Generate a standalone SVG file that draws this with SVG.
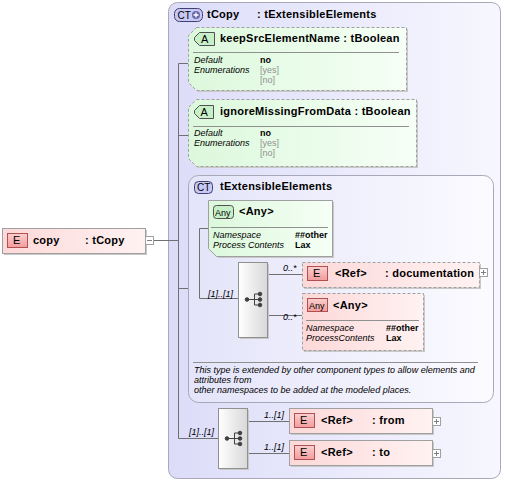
<svg xmlns="http://www.w3.org/2000/svg" width="505" height="482" viewBox="0 0 505 482">
<defs>
<linearGradient id="gOuter" x1="0" y1="0" x2="1" y2="0"><stop offset="0" stop-color="#dcdcf9"/><stop offset="1" stop-color="#f7f7ff"/></linearGradient>
<linearGradient id="gInner" x1="0" y1="0" x2="1" y2="0"><stop offset="0" stop-color="#e4e4fa"/><stop offset="1" stop-color="#fbfbff"/></linearGradient>
<linearGradient id="gGreen" x1="0" y1="0" x2="1" y2="0"><stop offset="0" stop-color="#dcf8dc"/><stop offset="1" stop-color="#f6fff6"/></linearGradient>
<linearGradient id="gPink" x1="0" y1="0" x2="1" y2="0"><stop offset="0" stop-color="#fdd8d8"/><stop offset="1" stop-color="#fff2f2"/></linearGradient>
<linearGradient id="gSeq" x1="0" y1="0" x2="1" y2="0"><stop offset="0" stop-color="#ffffff"/><stop offset="1" stop-color="#d8d8d8"/></linearGradient>
<linearGradient id="gE" x1="0" y1="0" x2="0" y2="1"><stop offset="0" stop-color="#fbd0d0"/><stop offset="1" stop-color="#f29c9c"/></linearGradient>
<style>
.t{font-family:"Liberation Sans",Arial,sans-serif;font-size:11px;fill:#000}
.b{font-weight:bold;letter-spacing:0.25px}
.d{font-family:"Liberation Sans",Arial,sans-serif;font-size:9px;fill:#000}
.i{font-style:italic}
.g{fill:#909090}
.bd{font-family:"Liberation Sans",Arial,sans-serif;font-size:9px;font-weight:bold;fill:#000}
.sh{fill:#c8c8c8}
.dash{stroke:#a0a0a0;stroke-width:1;stroke-dasharray:3,2}
.solid{stroke:#a0a0a0;stroke-width:1}
.ln{stroke:#707070;stroke-width:1;fill:none}
.sep{stroke:#909090;stroke-width:1}
.badgeE{fill:url(#gE);stroke:#b05050;stroke-width:1}
.badgeG{fill:#c8f0c8;stroke:#505050;stroke-width:1}
.badgeC{fill:#c8c8f4;stroke:#404070;stroke-width:1}
.pm{fill:#fff;stroke:#a0a0a0;stroke-width:1}
.card{font-family:"Liberation Sans",Arial,sans-serif;font-size:9px;font-style:italic;fill:#000}
</style>
</defs>

<g id="tCopy">
<rect x="168.5" y="2.5" width="332" height="476" rx="9" fill="url(#gOuter)" stroke="#a8a8b8"/>
<rect x="174.5" y="8.5" width="28" height="13" rx="5" class="badgeC"/>
<text x="177.5" y="19" class="t" style="font-size:10px">CT</text>
<circle cx="196" cy="15" r="4" fill="#6868a8"/>
<path d="M193.5,15 H198.5 M196,12.5 V17.5" stroke="#fff" stroke-width="1.3"/>
<text x="207" y="18" class="t b">tCopy</text>
<text x="257" y="18" class="t b">: tExtensibleElements</text>
</g>

<g id="keepSrcElementName">
<path d="M198,29 H408 V92 H198 L190,84 V37 Z" class="sh"/>
<path d="M196.5,27.5 H406.5 V90.5 H196.5 L188.5,82.5 V35.5 Z" fill="url(#gGreen)" class="dash"/>
<path d="M199.5,32.5 H214.5 V45.5 H199.5 L194.5,40.5 V37.5 Z" class="badgeG"/>
<text x="201" y="43" class="t">A</text>
<text x="220" y="42" class="t b">keepSrcElementName : tBoolean</text>
<path d="M193,52.5 H399" class="sep"/>
<text x="194" y="63" class="d i">Default</text>
<text x="260" y="63" class="bd">no</text>
<text x="194" y="73" class="d i">Enumerations</text>
<text x="260" y="73" class="d g">[yes]</text>
<text x="260" y="83" class="d g">[no]</text>
</g>

<g id="ignoreMissingFromData">
<path d="M198,101 H418 V168 H198 L190,160 V109 Z" class="sh"/>
<path d="M196.5,99.5 H416.5 V166.5 H196.5 L188.5,158.5 V107.5 Z" fill="url(#gGreen)" class="dash"/>
<path d="M199.5,105.5 H213.5 V118.5 H199.5 L194.5,113.5 V110.5 Z" class="badgeG"/>
<text x="200.5" y="116" class="t">A</text>
<text x="220" y="115" class="t b">ignoreMissingFromData : tBoolean</text>
<path d="M193,126.5 H409" class="sep"/>
<text x="194" y="136" class="d i">Default</text>
<text x="260" y="136" class="bd">no</text>
<text x="194" y="146" class="d i">Enumerations</text>
<text x="260" y="146" class="d g">[yes]</text>
<text x="260" y="156" class="d g">[no]</text>
</g>

<g id="tExtensibleElements">
<rect x="188.5" y="175.5" width="305" height="227" rx="10" fill="url(#gInner)" stroke="#a8a8b8"/>
<rect x="194.5" y="181.5" width="18" height="12" rx="4" class="badgeC"/>
<text x="197" y="191" class="t" style="font-size:10px">CT</text>
<text x="220" y="190" class="t b">tExtensibleElements</text>
<path d="M193,362.5 H478" class="sep"/>
<text x="194" y="373" class="d i">This type is extended by other component types to allow elements and</text>
<text x="194" y="383" class="d i">attributes from</text>
<text x="194" y="393" class="d i">other namespaces to be added at the modeled places.</text>
</g>

<g id="connectors">
<path class="ln" d="M153,240.5 H178.5"/>
<path class="ln" d="M178.5,63.5 V438.5"/>
<path class="ln" d="M178.5,63.5 H188"/>
<path class="ln" d="M178.5,135.5 H188"/>
<path class="ln" d="M178.5,288.5 H188"/>
<path class="ln" d="M178.5,438.5 H218"/>
<path class="ln" d="M208,228.5 H199.5 V298.5 H238"/>
<path class="ln" d="M267,274.5 H302"/>
<path class="ln" d="M267,315.5 H302"/>
<path class="ln" d="M247,421.5 H289"/>
<path class="ln" d="M247,453.5 H289"/>
<text x="208" y="297" class="card">[1]..[1]</text>
<text x="283" y="271" class="card">0..*</text>
<text x="283" y="320" class="card">0..*</text>
<text x="189" y="435" class="card">[1]..[1]</text>
<text x="264" y="418" class="card">1..[1]</text>
<text x="264" y="450" class="card">1..[1]</text>
</g>

<g id="copy">
<rect x="4" y="230" width="143" height="25" class="sh"/>
<rect x="2.5" y="228.5" width="143" height="25" fill="url(#gPink)" class="solid"/>
<rect x="7.5" y="233.5" width="20" height="14" class="badgeE"/>
<text x="13" y="244" class="t">E</text>
<text x="33" y="244" class="t b">copy</text>
<text x="85" y="244" class="t b">: tCopy</text>
<rect x="145.5" y="236.5" width="8" height="8" class="pm"/>
<path d="M147,240.5 H152" stroke="#808080"/>
</g>

<g id="anyOther">
<path d="M210,202 H334 V258 H218 L210,250 Z" class="sh"/>
<path d="M208.5,200.5 H332.5 V256.5 H216.5 L208.5,248.5 Z" fill="url(#gGreen)" class="solid"/>
<rect x="213.5" y="205.5" width="20" height="13" rx="3" class="badgeG"/>
<text x="215" y="215.5" class="d">Any</text>
<text x="239" y="215" class="t b">&lt;Any&gt;</text>
<path d="M211,227.5 H328" class="sep"/>
<text x="213" y="238" class="d i">Namespace</text>
<text x="295" y="238" class="bd">##other</text>
<text x="213" y="248" class="d i">Process Contents</text>
<text x="295" y="248" class="bd">Lax</text>
</g>

<g id="seq1">
<rect x="240" y="264" width="29" height="75" class="sh"/>
<rect x="238.5" y="262.5" width="29" height="75" fill="url(#gSeq)" stroke="#909090"/>
<g fill="#404040" stroke="#404040">
<circle cx="247" cy="299.5" r="1.8"/>
<path d="M247,299.5 H254.5 M254.5,294 V305 M254.5,294 H260 M254.5,299.5 H260 M254.5,305 H260" fill="none"/>
<circle cx="260" cy="294" r="1.8"/><circle cx="260" cy="299.5" r="1.8"/><circle cx="260" cy="305" r="1.8"/>
</g>
</g>

<g id="documentation">
<rect x="304" y="264" width="177" height="25" class="sh"/>
<rect x="302.5" y="262.5" width="177" height="25" fill="url(#gPink)" class="dash"/>
<rect x="307.5" y="266.5" width="20" height="14" class="badgeE"/>
<text x="313" y="277" class="t">E</text>
<text x="335" y="277" class="t b">&lt;Ref&gt;</text>
<text x="385" y="277" class="t b">: documentation</text>
<rect x="479.5" y="268.5" width="8" height="8" class="pm"/>
<path d="M481,272.5 H486 M483.5,270 V275" stroke="#808080"/>
</g>

<g id="anyOther2">
<rect x="304" y="295" width="121" height="57" class="sh"/>
<rect x="302.5" y="293.5" width="121" height="57" fill="url(#gPink)" class="dash"/>
<rect x="307.5" y="298.5" width="20" height="13" class="badgeE"/>
<text x="309" y="308.5" class="d">Any</text>
<text x="333" y="309" class="t b">&lt;Any&gt;</text>
<path d="M306,320.5 H419" class="sep"/>
<text x="306" y="331" class="d i">Namespace</text>
<text x="386" y="331" class="bd">##other</text>
<text x="306" y="341" class="d i">ProcessContents</text>
<text x="386" y="341" class="bd">Lax</text>
</g>

<g id="seq2">
<rect x="220" y="410" width="29" height="60" class="sh"/>
<rect x="218.5" y="408.5" width="29" height="60" fill="url(#gSeq)" stroke="#909090"/>
<g fill="#404040" stroke="#404040">
<circle cx="227" cy="438.5" r="1.8"/>
<path d="M227,438.5 H234.5 M234.5,433 V444 M234.5,433 H240 M234.5,438.5 H240 M234.5,444 H240" fill="none"/>
<circle cx="240" cy="433" r="1.8"/><circle cx="240" cy="438.5" r="1.8"/><circle cx="240" cy="444" r="1.8"/>
</g>
</g>

<g id="from">
<rect x="291" y="410" width="143" height="25" class="sh"/>
<rect x="289.5" y="408.5" width="143" height="25" fill="url(#gPink)" class="solid"/>
<rect x="294.5" y="413.5" width="20" height="14" class="badgeE"/>
<text x="300" y="424" class="t">E</text>
<text x="321" y="424" class="t b">&lt;Ref&gt;</text>
<text x="372" y="424" class="t b">: from</text>
<rect x="432.5" y="417.5" width="8" height="8" class="pm"/>
<path d="M434,421.5 H439 M436.5,419 V424" stroke="#808080"/>
</g>

<g id="to">
<rect x="291" y="442" width="143" height="25" class="sh"/>
<rect x="289.5" y="440.5" width="143" height="25" fill="url(#gPink)" class="solid"/>
<rect x="294.5" y="445.5" width="20" height="14" class="badgeE"/>
<text x="300" y="456" class="t">E</text>
<text x="321" y="456" class="t b">&lt;Ref&gt;</text>
<text x="372" y="456" class="t b">: to</text>
<rect x="432.5" y="449.5" width="8" height="8" class="pm"/>
<path d="M434,453.5 H439 M436.5,451 V456" stroke="#808080"/>
</g>
</svg>
